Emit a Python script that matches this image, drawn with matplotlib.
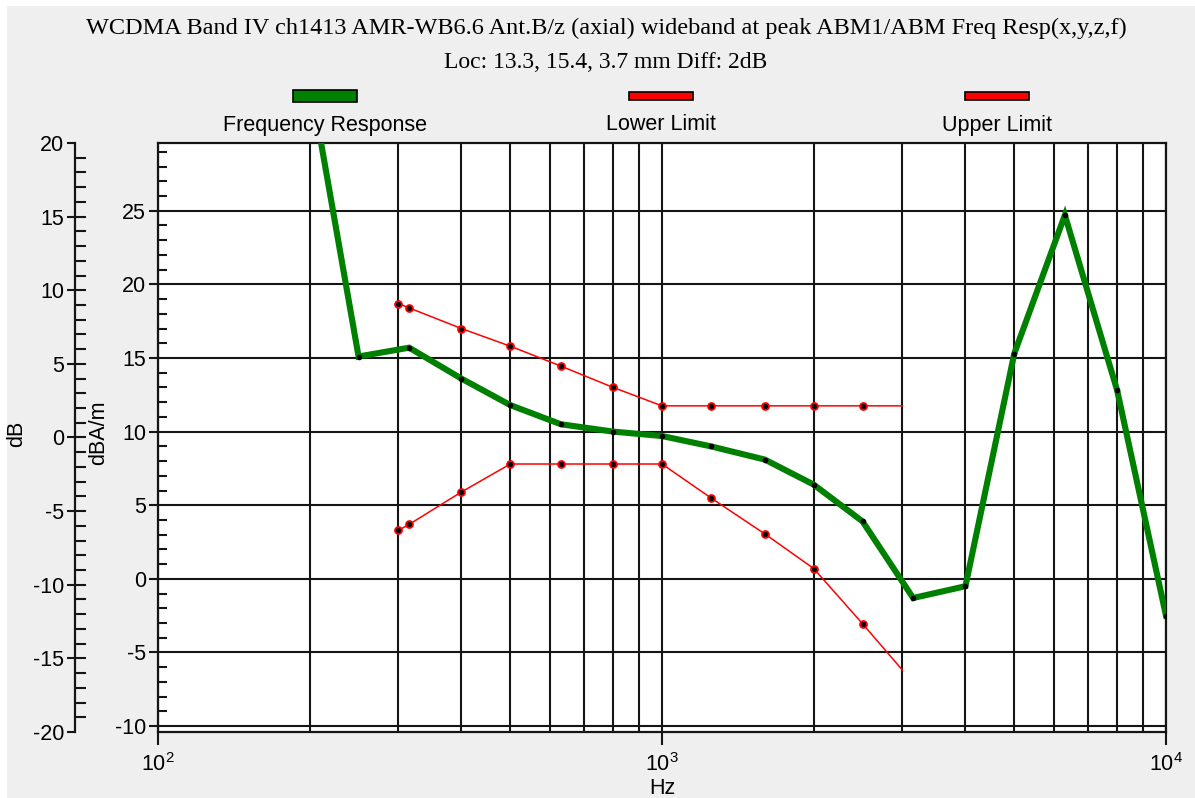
import numpy as np
import matplotlib.pyplot as plt
from matplotlib.patches import Rectangle
from matplotlib.ticker import FixedLocator, NullFormatter

plt.rcParams['font.family'] = ['Liberation Sans', 'DejaVu Sans']
plt.rcParams['mathtext.fontset'] = 'custom'
plt.rcParams['mathtext.rm'] = 'Liberation Sans'
plt.rcParams['mathtext.it'] = 'Liberation Sans'
plt.rcParams['axes.unicode_minus'] = False

# measured response (dBA/m) at 1/3 octave points
freq_hz = [200, 250, 315, 400, 500, 630, 800, 1000, 1250, 1600, 2000, 2500,
           3150, 4000, 5000, 6300, 8000, 10000]
resp_db = [34.0, 15.1, 15.7, 13.6, 11.8, 10.5, 10.0, 9.7, 9.0, 8.1, 6.4, 3.9,
           -1.3, -0.5, 15.3, 24.7, 12.8, -2.5]

# mask limits
limit_hz = [300, 315, 400, 500, 630, 800, 1000, 1250, 1600, 2000, 2500, 3000]
upper_db = [18.7, 18.4, 17.0, 15.8, 14.45, 13.0, 11.75, 11.75, 11.75, 11.75, 11.75, 11.75]
lower_db = [3.3, 3.7, 5.9, 7.8, 7.8, 7.8, 7.8, 5.5, 3.05, 0.7, -3.05, -6.2]

W, H = 1195, 798
bg = '#efefef'
ink = '#151515'
fs = 15.5

fig = plt.figure(figsize=(W / 100, H / 100), dpi=100, facecolor='white')
fig.add_artist(Rectangle((7 / W, 0), 1, 1 - 6 / H, transform=fig.transFigure,
                         facecolor=bg, edgecolor='none', zorder=-10))

x0, x1, y0, y1 = 158, 1166, 143, 732
ax = fig.add_axes([x0 / W, 1 - y1 / H, (x1 - x0) / W, (y1 - y0) / H])
ax.set_xscale('log')
ax.set_xlim(100, 10000)
ax.set_ylim(-10.4, 29.6)

ax.plot(freq_hz, resp_db, color='#008000', lw=4.4, marker='o', ms=3,
        mfc='black', mec='black', zorder=4, solid_joinstyle='miter')
ax.plot(limit_hz, upper_db, color='red', lw=1.1, marker='o', ms=5,
        mfc='black', mec='red', mew=1.3, markevery=list(range(len(limit_hz) - 1)), zorder=3)
ax.plot(limit_hz, lower_db, color='red', lw=1.1, marker='o', ms=5,
        mfc='black', mec='red', mew=1.3, markevery=list(range(len(limit_hz) - 1)), zorder=3)

# x axis: decades labelled, grid on every 1..9 step
ax.xaxis.set_major_locator(FixedLocator([100, 1000, 10000]))
ax.set_xticklabels(['$10^2$', '$10^3$', '$10^4$'])
minor_x = [m * d for d in (100, 1000) for m in range(2, 10)]
ax.xaxis.set_minor_locator(FixedLocator(minor_x))
ax.xaxis.set_minor_formatter(NullFormatter())
ax.tick_params(axis='x', which='major', direction='out', length=9, width=1.5,
               labelsize=fs, pad=6, color=ink)
ax.tick_params(axis='x', which='minor', length=0)

# y axis (dBA/m)
ax.yaxis.set_major_locator(FixedLocator(np.arange(-10, 26, 5)))
ax.yaxis.set_minor_locator(FixedLocator(np.arange(-10, 30, 1)))
ax.tick_params(axis='y', which='major', direction='out', length=6.5, width=1.5,
               labelsize=fs, pad=2, color=ink)
ax.tick_params(axis='y', which='minor', direction='in', length=6.5, width=1.5, color=ink)

ax.grid(True, which='major', color=ink, lw=1.5)
ax.grid(True, which='minor', axis='x', color=ink, lw=1.5)
for s in ax.spines.values():
    s.set_color(ink)
    s.set_linewidth(1.6)
ax.set_facecolor('white')

# second scale in dB on the far left
ax2 = fig.add_axes([75 / W, 1 - y1 / H, 0.001, (y1 - y0) / H])
ax2.set_ylim(-20, 20)
ax2.patch.set_visible(False)
for k in ('top', 'right', 'bottom'):
    ax2.spines[k].set_visible(False)
ax2.spines['left'].set_color(ink)
ax2.spines['left'].set_linewidth(1.6)
ax2.set_xticks([])
ax2.yaxis.set_major_locator(FixedLocator(np.arange(-20, 21, 5)))
ax2.yaxis.set_minor_locator(FixedLocator(np.arange(-19, 20, 1)))
ax2.yaxis.remove_overlapping_locs = False
ax2.tick_params(axis='y', which='major', direction='out', length=6, width=1.5,
                labelsize=fs, pad=2, color=ink)
ax2.tick_params(axis='y', which='minor', direction='in', length=8, width=1.5, color=ink)

fig.text(17 / W, 1 - 434 / H, 'dB', rotation=90, ha='center', va='center', fontsize=fs)
fig.text(99 / W, 1 - 433 / H, 'dBA/m', rotation=90, ha='center', va='center', fontsize=fs)
fig.text(662 / W, 1 - 788 / H, 'Hz', ha='center', va='center', fontsize=fs)

fig.text(606 / W, 1 - 28 / H,
         'WCDMA Band IV ch1413 AMR-WB6.6 Ant.B/z (axial) wideband at peak ABM1/ABM Freq Resp(x,y,z,f)',
         ha='center', va='center', fontsize=17.5, family='Liberation Serif')
fig.text(606 / W, 1 - 62 / H, 'Loc: 13.3, 15.4, 3.7 mm Diff: 2dB',
         ha='center', va='center', fontsize=17, family='Liberation Serif')

# legend: swatch above each label
legend = [('Frequency Response', '#008000', 325, 12),
          ('Lower Limit', 'red', 661, 8),
          ('Upper Limit', 'red', 997, 8)]
for label, col, cx, hh in legend:
    fig.add_artist(Rectangle(((cx - 32) / W, 1 - (96 + hh / 2) / H), 64 / W, hh / H,
                             transform=fig.transFigure, facecolor=col,
                             edgecolor='black', lw=1.2))
    fig.text(cx / W, 1 - 125 / H, label, ha='center', va='center', fontsize=fs)

fig.savefig('out.png', dpi=100, facecolor=fig.get_facecolor())
